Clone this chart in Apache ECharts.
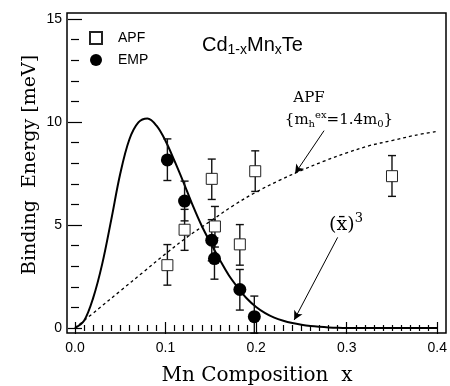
<!DOCTYPE html>
<html><head><meta charset="utf-8">
<script src="https://cdn.jsdelivr.net/npm/echarts@6.0.0/dist/echarts.min.js"></script>
<style>html,body{margin:0;padding:0;background:#fff}#c{width:450px;height:386px}</style>
</head><body><div id="c"></div>
<script>
// ---- data ----
const xTickLabels = ['0.0', '0.1', '0.2', '0.3', '0.4'];
const yTickLabels = ['0', '5', '10', '15'];

const apfX    = [0.102, 0.121, 0.151, 0.1545, 0.182, 0.199, 0.350];
const apfY    = [3.05, 4.77, 7.24, 4.93, 4.06, 7.61, 7.37];
const apfLow  = [2.08, 3.77, 6.24, 3.93, 3.05, 6.63, 6.39];
const apfHigh = [4.05, 5.76, 8.20, 5.90, 5.02, 8.60, 8.37];

const empX    = [0.102, 0.121, 0.151, 0.154, 0.182, 0.198];
const empY    = [8.16, 6.16, 4.26, 3.37, 1.87, 0.55];
const empLow  = [7.16, 5.20, 3.26, 2.37, 0.87, -0.25];
const empHigh = [9.18, 7.13, 5.26, 4.37, 2.84, 1.55];

const cubeX = [0, 0.01, 0.02, 0.03, 0.04, 0.05, 0.06, 0.07, 0.08, 0.09, 0.10, 0.11, 0.12, 0.13, 0.14, 0.15, 0.16, 0.17, 0.18, 0.19, 0.20, 0.21, 0.22, 0.23, 0.24, 0.25, 0.26, 0.27, 0.28, 0.29, 0.30, 0.35, 0.40];
const cubeY = [0, 0.35, 1.45, 3.10, 5.25, 7.50, 9.15, 9.98, 10.17, 9.82, 9.08, 8.10, 7.05, 5.95, 4.95, 4.10, 3.30, 2.55, 1.95, 1.42, 1.02, 0.72, 0.50, 0.35, 0.24, 0.16, 0.10, 0.06, 0.03, 0.01, 0, 0, 0];

const apfCurveX = [0, 0.025, 0.05, 0.075, 0.10, 0.125, 0.15, 0.175, 0.20, 0.225, 0.25, 0.275, 0.30, 0.325, 0.35, 0.375, 0.40];
const apfCurveY = [0, 0.90, 1.80, 2.70, 3.60, 4.45, 5.20, 5.95, 6.60, 7.15, 7.65, 8.10, 8.50, 8.85, 9.10, 9.35, 9.55];

// arrows: [fromX, fromY, toX, toY]
const apfArrow  = [0.275, 9.58, 0.243, 7.50];
const cubeArrow = [0.290, 4.40, 0.242, 0.39];

// ---- build ----
const zip = (a, b) => a.map((v, i) => [v, b[i]]);
const serif = 'DejaVu Serif';
const sans = 'Liberation Sans';
const tickStyle = { color: '#000', width: 1.2 };

function errorRender(params, api) {
  const x = api.value(0);
  const lo = api.coord([x, api.value(1)]);
  const hi = api.coord([x, api.value(2)]);
  const w = 4;
  const st = { stroke: '#111', lineWidth: 1.4 };
  return {
    type: 'group',
    children: [
      { type: 'line', shape: { x1: lo[0], y1: lo[1], x2: hi[0], y2: hi[1] }, style: st },
      { type: 'line', shape: { x1: lo[0] - w, y1: lo[1], x2: lo[0] + w, y2: lo[1] }, style: st },
      { type: 'line', shape: { x1: hi[0] - w, y1: hi[1], x2: hi[0] + w, y2: hi[1] }, style: st }
    ]
  };
}

const xAxisBase = {
  type: 'value', min: 0, max: 0.4, interval: 0.1,
  axisLine: { show: false },
  axisTick: { inside: true, length: 6, lineStyle: tickStyle },
  minorTick: { show: true, splitNumber: 10, length: 3, lineStyle: tickStyle },
  splitLine: { show: false }, minorSplitLine: { show: false }
};
const yAxisBase = {
  type: 'value', min: 0, max: 15, interval: 5,
  axisLine: { show: false },
  axisTick: { inside: true, length: 7, lineStyle: tickStyle },
  minorTick: { show: true, splitNumber: 5, length: 4, lineStyle: tickStyle },
  splitLine: { show: false }, minorSplitLine: { show: false }
};

const option = {
  animation: false,
  backgroundColor: '#fff',
  grid: { left: 75, right: 10, top: 19, bottom: 58 },
  xAxis: [
    Object.assign({}, xAxisBase, {
      position: 'bottom', offset: 5,
      axisLabel: { margin: 8, fontSize: 14, color: '#000', fontFamily: sans,
        formatter: (v) => xTickLabels[Math.round(v * 10)] }
    }),
    Object.assign({}, xAxisBase, { position: 'top', offset: 6, axisLabel: { show: false } })
  ],
  yAxis: [
    Object.assign({}, yAxisBase, {
      position: 'left', offset: 8,
      axisLabel: { margin: 5, fontSize: 14, color: '#000', fontFamily: sans,
        formatter: (v) => yTickLabels[Math.round(v / 5)] }
    }),
    Object.assign({}, yAxisBase, { position: 'right', offset: 6, axisLabel: { show: false } })
  ],
  legend: {
    orient: 'vertical', left: 84, top: 26, itemWidth: 12, itemHeight: 12, itemGap: 8,
    textStyle: { fontFamily: sans, fontSize: 14, color: '#000', padding: [0, 0, 0, 11] },
    data: ['APF', 'EMP']
  },
  series: [
    {
      name: 'cube', type: 'line', data: zip(cubeX, cubeY), showSymbol: false, symbol: 'none',
      smooth: 0.35, z: 2,
      lineStyle: { color: '#000', width: 2 },
      markLine: {
        silent: true, symbol: ['none', 'arrow'], symbolSize: [7, 9], label: { show: false },
        lineStyle: { color: '#000', width: 1, type: 'solid' },
        data: [[{ coord: [cubeArrow[0], cubeArrow[1]] }, { coord: [cubeArrow[2], cubeArrow[3]] }],
               [{ coord: [apfArrow[0], apfArrow[1]] }, { coord: [apfArrow[2], apfArrow[3]] }]]
      }
    },
    {
      name: 'apfcurve', type: 'line', data: zip(apfCurveX, apfCurveY), showSymbol: false, symbol: 'none',
      smooth: 0.35, z: 2,
      lineStyle: { color: '#000', width: 1.3, type: [3, 3] }
    },
    {
      type: 'custom', renderItem: errorRender, z: 3, clip: false,
      data: apfX.map((x, i) => [x, apfLow[i], apfHigh[i]]),
      encode: { x: 0, y: [1, 2] }
    },
    {
      type: 'custom', renderItem: errorRender, z: 3, clip: false,
      data: empX.map((x, i) => [x, empLow[i], empHigh[i]]),
      encode: { x: 0, y: [1, 2] }
    },
    {
      name: 'APF', type: 'scatter', data: zip(apfX, apfY), symbol: 'rect', symbolSize: 11, z: 4,
      itemStyle: { color: '#fff', borderColor: '#222', borderWidth: 1, opacity: 1 }
    },
    {
      name: 'EMP', type: 'scatter', data: zip(empX, empY), symbol: 'circle', symbolSize: 13, z: 4,
      itemStyle: { color: '#000', opacity: 1 }
    }
  ],
  graphic: [
    { type: 'rect', shape: { x: 67, y: 13, width: 379, height: 320 }, z: 10,
      style: { fill: 'none', stroke: '#000', lineWidth: 1.5 } },
    { type: 'text', x: 257, y: 376, z: 10,
      style: { text: 'Mn Composition  x', font: '20px "' + serif + '"', fill: '#000', align: 'center', verticalAlign: 'middle' } },
    { type: 'text', x: 30, y: 165, rotation: Math.PI / 2, z: 10,
      style: { text: 'Binding  Energy [meV]', font: '19px "' + serif + '"', fill: '#000', align: 'center', verticalAlign: 'middle' } },
    { type: 'text', x: 202, y: 45, z: 10,
      style: { text: '{n|Cd}{s|1-x}{n|Mn}{s|x}{n|Te}', align: 'left', verticalAlign: 'middle',
        rich: {
          n: { fontFamily: sans, fontSize: 20, fill: '#000', lineHeight: 24 },
          s: { fontFamily: sans, fontSize: 14, fill: '#000', lineHeight: 14, padding: [11, 0, 0, 0] }
        } } },
    { type: 'text', x: 309, y: 98, z: 10,
      style: { text: 'APF', font: '15px "' + serif + '"', fill: '#000', align: 'center', verticalAlign: 'middle' } },
    { type: 'text', x: 339, y: 120, z: 10,
      style: { text: '{{p|m}{sb|h}{sp|ex}{p|=1.4m}{sb|0}}', font: '15px "' + serif + '"', fill: '#000', align: 'center', verticalAlign: 'middle',
        rich: {
          p: { fontFamily: serif, fontSize: 15, fill: '#000', lineHeight: 18 },
          sb: { fontFamily: serif, fontSize: 10, fill: '#000', lineHeight: 10, padding: [8, 0, 0, 0] },
          sp: { fontFamily: serif, fontSize: 10, fill: '#000', lineHeight: 10, padding: [0, 0, 10, 0] }
        } } },
    { type: 'text', x: 346, y: 225, z: 10,
      style: { text: '{p|(x\u0304)}{sp|3}', align: 'center', verticalAlign: 'middle',
        rich: {
          p: { fontFamily: serif, fontSize: 19, fill: '#000', lineHeight: 22 },
          sp: { fontFamily: serif, fontSize: 13, fill: '#000', lineHeight: 13, padding: [0, 0, 12, 0] }
        } } }
  ]
};

const chart = echarts.init(document.getElementById('c'), null, { renderer: 'canvas' });
chart.setOption(option);
</script>
</body></html>
